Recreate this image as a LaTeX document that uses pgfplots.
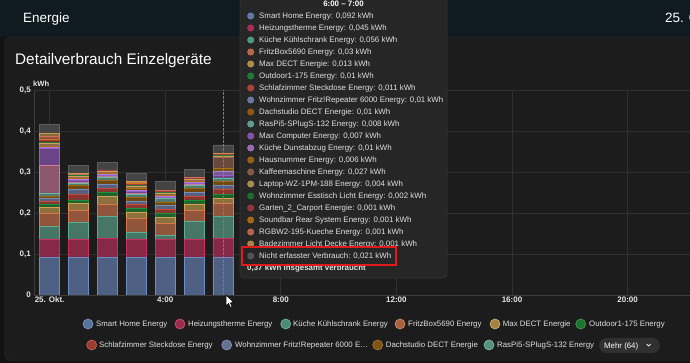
\documentclass[border=0pt]{standalone}
\usepackage{fontspec}
\setmainfont{Liberation Sans}
\usepackage{pgfplots}
\usepackage{pgfplotstable}
\pgfplotsset{compat=1.18}

\definecolor{pagebg}{HTML}{121212}
\definecolor{headbg}{HTML}{0F1A21}
\definecolor{cardbg}{HTML}{1C1C1C}
\definecolor{cardline}{HTML}{282828}
\definecolor{gridc}{HTML}{303030}
\definecolor{axisc}{HTML}{3C3C3C}
\definecolor{tickc}{HTML}{E6E6E6}
\definecolor{txtc}{HTML}{E1E1E1}
\definecolor{tipbg}{HTML}{262626}
\definecolor{tipline}{HTML}{363636}
\definecolor{crossc}{HTML}{1E90FF}
\definecolor{redbox}{HTML}{E31A1A}

\definecolor{cSH}{HTML}{6C8CC4}
\definecolor{cHZ}{HTML}{C8315F}
\definecolor{cKK}{HTML}{5FAE94}
\definecolor{cFB}{HTML}{D8784F}
\definecolor{cMD}{HTML}{D0A552}
\definecolor{cOD}{HTML}{1F8F3A}
\definecolor{cSZ}{HTML}{C8483A}
\definecolor{cWZ}{HTML}{7A8CB8}
\definecolor{cDS}{HTML}{A0650F}
\definecolor{cRP}{HTML}{6CB8A4}
\definecolor{cPK}{HTML}{D07A9E}
\definecolor{cMC}{HTML}{9A5CC8}
\definecolor{cKD}{HTML}{B07ED8}
\definecolor{cHN}{HTML}{A87310}
\definecolor{cKM}{HTML}{9A6450}
\definecolor{cLT}{HTML}{C8A060}
\definecolor{cWE}{HTML}{1E7A32}
\definecolor{cGC}{HTML}{A83A3A}
\definecolor{cSB}{HTML}{C07A10}
\definecolor{cRG}{HTML}{D87058}
\definecolor{cBZ}{HTML}{C89A50}
\definecolor{cNE}{HTML}{5C5C5C}

\pgfplotstableread{
h SH HZ KK FB MD OD SZ WZ DS RP PK MC KD HN KM LT WE GC SB RG BZ NE
0 0.092 0.044 0.032 0.031 0.015 0.008 0.006 0.008 0.005 0.007 0.069 0.041 0.002 0.003 0.002 0.004 0.004 0.003 0.003 0.007 0.008 0.021
1 0.092 0.044 0.040 0.030 0.018 0.008 0.013 0.012 0.010 0.006 0.002 0.004 0.003 0.003 0.002 0.003 0.001 0.001 0.001 0.001 0.002 0.021
2 0.092 0.045 0.056 0.029 0.018 0.010 0.010 0.010 0.010 0.008 0.001 0.003 0.002 0.003 0.001 0.003 0.001 0.001 0.001 0.000 0.001 0.019
3 0.092 0.044 0.018 0.033 0.014 0.010 0.009 0.008 0.010 0.008 0.002 0.004 0.003 0.004 0.003 0.004 0.002 0.002 0.002 0.002 0.002 0.021
4 0.092 0.044 0.009 0.030 0.014 0.010 0.010 0.010 0.008 0.008 0.001 0.003 0.002 0.003 0.002 0.003 0.002 0.001 0.002 0.001 0.001 0.021
5 0.092 0.043 0.044 0.028 0.015 0.010 0.009 0.009 0.010 0.008 0.001 0.003 0.002 0.003 0.002 0.003 0.001 0.001 0.001 0.001 0.001 0.020
6 0.092 0.045 0.056 0.030 0.013 0.010 0.011 0.010 0.010 0.008 0.000 0.007 0.010 0.006 0.027 0.004 0.002 0.001 0.001 0.001 0.001 0.021
}\energydata

\newcommand{\bseg}[1]{\addplot[fill=c#1!62!cardbg, draw=c#1, line width=0.7pt] table[x=h,y=#1]{\energydata};}
\newcommand{\tipfont}{\fontsize{7.9}{9}\selectfont}
\newcommand{\legfont}{\fontsize{7.85}{9}\selectfont}
\newcommand{\tipline}[3]{%
  \fill[c#2!80!tipbg, draw=c#2, line width=0.4pt] (250.7pt,{363pt-#1pt}) circle (3.2pt);
  \node[anchor=base west, inner sep=0, font=\tipfont, text=txtc] at (259pt,{360.2pt-#1pt}) {#3};}
\newcommand{\legitem}[5]{%
  \fill[c#4!75!cardbg, draw=c#4!85!white, line width=0.6pt] (#1pt,#3pt) circle (5pt);
  \node[anchor=base west, inner sep=0, font=\legfont, text=txtc] at (#2pt,{#3pt-2.8pt}) {#5};}

\begin{document}
\begin{tikzpicture}
\path[use as bounding box] (0pt,0pt) rectangle (690pt,363pt);
\clip (0pt,0pt) rectangle (690pt,363pt);
\fill[pagebg] (0pt,0pt) rectangle (690pt,363pt);
\fill[headbg] (0pt,326pt) rectangle (690pt,363pt);
\filldraw[fill=cardbg, draw=cardline, rounded corners=8pt] (4.5pt,2pt) rectangle (730pt,326.5pt);

\node[anchor=base west, inner sep=0, font=\fontsize{13.5}{16}\selectfont, text=white] at (23pt,340pt) {Energie};
\node[anchor=base west, inner sep=0, font=\fontsize{13.5}{16}\selectfont, text=white] at (665pt,340pt) {25. Okt.};
\node[anchor=base west, inner sep=0, font=\fontsize{15.3}{18}\selectfont, text=white] at (15pt,298pt) {Detailverbrauch Einzelgeräte};
\node[anchor=base west, inner sep=0, font=\bfseries\fontsize{7.6}{9}\selectfont, text=tickc] at (33pt,276pt) {kWh};

\begin{axis}[
  at={(34pt,68pt)}, anchor=south west,
  scale only axis, width=656pt, height=205pt,
  xmin=-0.54, xmax=22.16, ymin=0, ymax=0.5,
  enlargelimits=false,
  ybar stacked, bar width=20pt,
  axis x line*=bottom, axis y line*=left,
  axis line style={draw=axisc, line width=0.6pt},
  xtick={0,4,8,12,16,20},
  xticklabels={{25. Okt.},{4:00},{8:00},{12:00},{16:00},{20:00}},
  ytick={0,0.1,0.2,0.3,0.4,0.5},
  yticklabels={0,{0,1},{0,2},{0,3},{0,4},{0,5}},
  major tick length=0pt,
  tick style={draw=none},
  grid=major,
  major grid style={draw=gridc, line width=0.6pt},
  /pgf/number format/assume math mode=true,
  xticklabel style={font=\bfseries\fontsize{8}{9}\selectfont, text=tickc, inner sep=2pt},
  yticklabel style={font=\bfseries\fontsize{8}{9}\selectfont, text=tickc, inner sep=3pt},
]
\bseg{SH}\bseg{HZ}\bseg{KK}\bseg{FB}\bseg{MD}\bseg{OD}\bseg{SZ}\bseg{WZ}\bseg{DS}\bseg{RP}\bseg{PK}
\bseg{MC}\bseg{KD}\bseg{HN}\bseg{KM}\bseg{LT}\bseg{WE}\bseg{GC}\bseg{SB}\bseg{RG}\bseg{BZ}\bseg{NE}
\coordinate (cb) at (axis cs:6,0);
\coordinate (ct) at (axis cs:6,0.5);
\end{axis}
\draw[draw=crossc, line width=1pt, dash pattern=on 2.5pt off 1.5pt] (cb) -- (ct);

% tooltip
\filldraw[fill=tipbg, draw=tipline, line width=0.6pt, rounded corners=4pt] (240pt,85pt) rectangle (447pt,372pt);
\node[anchor=base, inner sep=0, font=\bfseries\tipfont, text=white] at (343.5pt,356.2pt) {6:00 – 7:00};
\tipline{16}{SH}{Smart Home Energy: 0,092 kWh}
\tipline{28}{HZ}{Heizungstherme Energy: 0,045 kWh}
\tipline{40}{KK}{Küche Kühlschrank Energy: 0,056 kWh}
\tipline{52}{FB}{FritzBox5690 Energy: 0,03 kWh}
\tipline{64}{MD}{Max DECT Energie: 0,013 kWh}
\tipline{76}{OD}{Outdoor1-175 Energy: 0,01 kWh}
\tipline{88}{SZ}{Schlafzimmer Steckdose Energy: 0,011 kWh}
\tipline{100}{WZ}{Wohnzimmer Fritz!Repeater 6000 Energy: 0,01 kWh}
\tipline{112}{DS}{Dachstudio DECT Energie: 0,01 kWh}
\tipline{124}{RP}{RasPi5-SPlugS-132 Energy: 0,008 kWh}
\tipline{136}{MC}{Max Computer Energy: 0,007 kWh}
\tipline{148}{KD}{Küche Dunstabzug Energy: 0,01 kWh}
\tipline{160}{HN}{Hausnummer Energy: 0,006 kWh}
\tipline{172}{KM}{Kaffeemaschine Energy: 0,027 kWh}
\tipline{184}{LT}{Laptop-WZ-1PM-188 Energy: 0,004 kWh}
\tipline{196}{WE}{Wohnzimmer Esstisch Licht Energy: 0,002 kWh}
\tipline{208}{GC}{Garten\_2\_Carport Energie: 0,001 kWh}
\tipline{220}{SB}{Soundbar Rear System Energy: 0,001 kWh}
\tipline{232}{RG}{RGBW2-195-Kueche Energy: 0,001 kWh}
\tipline{244}{BZ}{Badezimmer Licht Decke Energy: 0,001 kWh}
\tipline{256}{NE}{Nicht erfasster Verbrauch: 0,021 kWh}
\node[anchor=base west, inner sep=0, font=\bfseries\tipfont, text=txtc] at (247pt,92.2pt) {0,37 kWh insgesamt verbraucht};
\draw[redbox, line width=1.5pt] (242pt,116pt) rectangle (396pt,98pt);

% legend
\legitem{88}{96}{39}{SH}{Smart Home Energy}
\legitem{180}{188}{39}{HZ}{Heizungstherme Energy}
\legitem{285.7}{293}{39}{KK}{Küche Kühlschrank Energy}
\legitem{400}{408}{39}{FB}{FritzBox5690 Energy}
\legitem{495}{502.7}{39}{MD}{Max DECT Energie}
\legitem{580.7}{589}{39}{OD}{Outdoor1-175 Energy}
\legitem{91.7}{99}{18}{SZ}{Schlafzimmer Steckdose Energy}
\legitem{226.7}{235}{18}{WZ}{Wohnzimmer Fritz!Repeater 6000 E…}
\legitem{377.7}{385.7}{18}{DS}{Dachstudio DECT Energie}
\legitem{489}{497}{18}{RP}{RasPi5-SPlugS-132 Energy}
\fill[fill=gridc, rounded corners=7.5pt] (599pt,10pt) rectangle (660pt,25pt);
\node[anchor=base west, inner sep=0, font=\legfont, text=white] at (604pt,14.7pt) {Mehr (64)};
\draw[white, line width=0.7pt] (646.5pt,19pt) -- (648.5pt,17pt) -- (650.5pt,19pt);

% cursor
\filldraw[fill=white, draw=black, line width=0.5pt] (226pt,68pt) -- (226pt,57pt) -- (228.6pt,59.6pt) -- (230.4pt,55.6pt) -- (232pt,56.3pt) -- (230.3pt,60.2pt) -- (233.8pt,60.4pt) -- cycle;
\end{tikzpicture}
\end{document}
